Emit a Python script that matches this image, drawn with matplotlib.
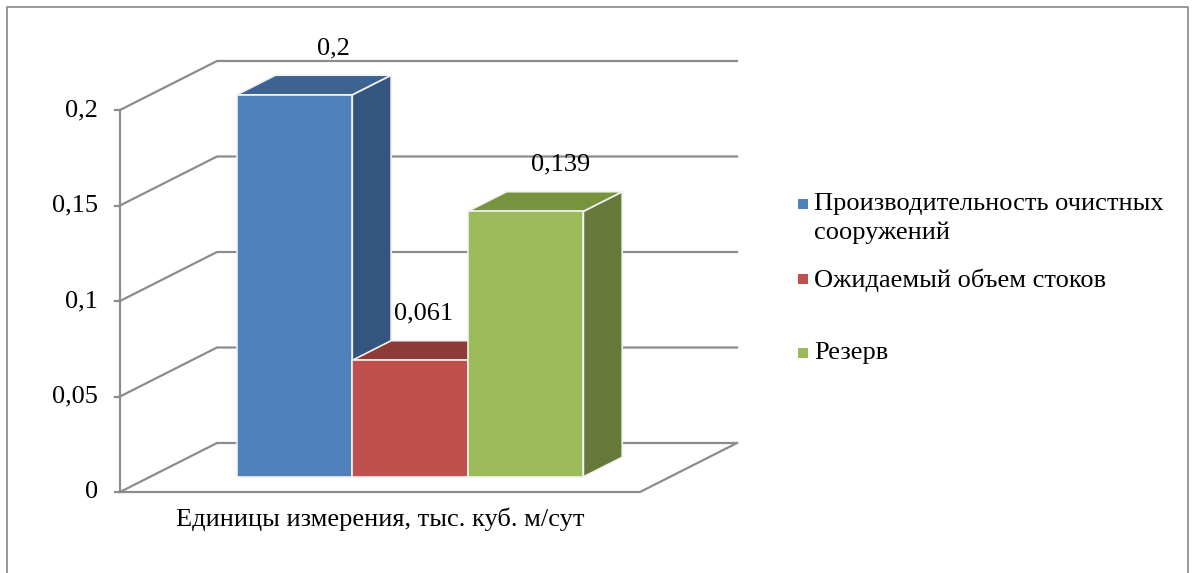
import matplotlib
matplotlib.use('Agg')
import matplotlib.pyplot as plt
from matplotlib.patches import Polygon, Rectangle
from matplotlib.lines import Line2D

# ---- data ----
category = 'Единицы измерения, тыс. куб. м/сут'
series_names = ['Производительность очистных\nсооружений', 'Ожидаемый объем стоков', 'Резерв']
values = [0.2, 0.061, 0.139]
value_labels = ['0,2', '0,061', '0,139']
y_ticks = [0, 0.05, 0.1, 0.15, 0.2]
y_tick_labels = ['0', '0,05', '0,1', '0,15', '0,2']

# ---- style ----
front_colors = ['#4F81BD', '#C0504D', '#9BBB59']
top_colors = ['#3D6393', '#8E3A39', '#77933D']
side_colors = ['#335580', '#7A302E', '#66793A']
label_nudge_px = [0, -25, -4]
FONT = ['Liberation Serif', 'DejaVu Serif']
FS = 19
W, H = 1196, 573

fig = plt.figure(figsize=(W / 100, H / 100), dpi=100)
fig.patch.set_facecolor('white')
ax = fig.add_axes([120 / W, (H - 492) / H, 520 / W, 382 / H])
ax.set_xlim(0, 1)
ax.set_ylim(0, max(y_ticks))
ax.axis('off')

DX = 97 / 520
DY = max(y_ticks) * 49 / 382


def P(x, y, z):
    return (x + DX * z, y + DY * z)


grid_c = '#8C8C8C'
glw = 1.6
for t, tl in zip(y_ticks, y_tick_labels):
    a, b, c = P(0, t, 0), P(0, t, 1), P(1, t, 1)
    ax.add_line(Line2D([a[0], b[0], c[0]], [a[1], b[1], c[1]], color=grid_c, lw=glw, clip_on=False, zorder=1))
    ax.add_line(Line2D([-5 / 520, 0], [t, t], color=grid_c, lw=glw, clip_on=False, zorder=1))
    ax.annotate(tl, (0, t), xytext=(-22, 0), textcoords='offset pixels',
                ha='right', va='center', fontsize=FS, family=FONT, annotation_clip=False)

# floor front + right edge, front axis
f0, f1, f2 = P(0, 0, 0), P(1, 0, 0), P(1, 0, 1)
ax.add_line(Line2D([f0[0], f1[0], f2[0]], [f0[1], f1[1], f2[1]], color=grid_c, lw=glw, clip_on=False, zorder=1))
a, b = P(0, 0, 0), P(0, max(y_ticks), 0)
ax.add_line(Line2D([a[0], b[0]], [a[1], b[1]], color=grid_c, lw=glw, clip_on=False, zorder=1))

# bars
z0, z1 = 0.31, 0.71
n = len(values)
group_w = 2 / 3
bw = group_w / n
start = (1 - group_w) / 2
for i, v in enumerate(values):
    x0 = start + i * bw
    x1 = x0 + bw
    ec = '#F2F2F2'
    front = [P(x0, 0, z0), P(x1, 0, z0), P(x1, v, z0), P(x0, v, z0)]
    top = [P(x0, v, z0), P(x1, v, z0), P(x1, v, z1), P(x0, v, z1)]
    side = [P(x1, 0, z0), P(x1, 0, z1), P(x1, v, z1), P(x1, v, z0)]
    zo = 3 + i
    ax.add_patch(Polygon(side, closed=True, facecolor=side_colors[i], edgecolor=ec, lw=1.2, clip_on=False, zorder=zo))
    ax.add_patch(Polygon(top, closed=True, facecolor=top_colors[i], edgecolor=ec, lw=1.2, clip_on=False, zorder=zo))
    ax.add_patch(Polygon(front, closed=True, facecolor=front_colors[i], edgecolor=ec, lw=1.2, clip_on=False, zorder=zo))
    lx, ly = P((x0 + x1) / 2, v, z1)
    ax.annotate(value_labels[i], (lx, ly), xytext=(label_nudge_px[i], 27), textcoords='offset pixels',
                ha='center', va='center', fontsize=FS, family=FONT, annotation_clip=False, zorder=10)

# category label
fig.text(380 / W, 1 - 519 / H, category, ha='center', va='center', fontsize=FS, family=FONT)

# legend
leg_sq_y = [204, 279, 353]
for i, name in enumerate(series_names):
    sq = 10
    fig.add_artist(Rectangle((798 / W, 1 - (leg_sq_y[i] + sq / 2) / H), sq / W, sq / H,
                             transform=fig.transFigure, facecolor=front_colors[i], edgecolor='none'))
    fig.text(814 / W, 1 - (leg_sq_y[i] - 11) / H, name, ha='left', va='top', fontsize=FS,
             family=FONT, linespacing=1.38)

# outer chart border
bc = '#888888'
fig.add_artist(Line2D([7 / W, 7 / W, 1188 / W, 1188 / W], [0, 1 - 7 / H, 1 - 7 / H, 0],
                      transform=fig.transFigure, color=bc, lw=1.2))

fig.savefig('out.png', dpi=100, facecolor='white')
